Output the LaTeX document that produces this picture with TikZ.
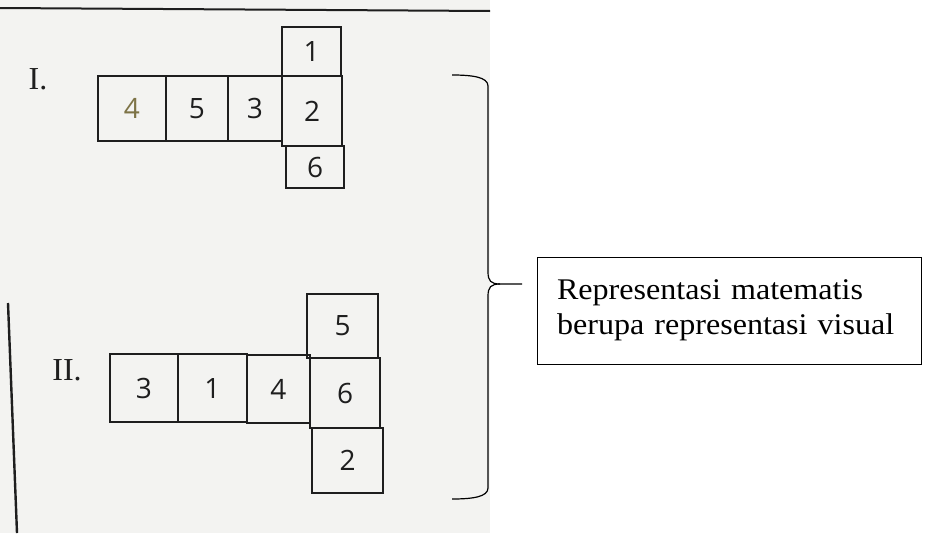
\documentclass[tikz,border=0pt]{standalone}
\usepackage{fontspec}
\setmainfont{Liberation Serif}
\newfontfamily\boxfont[FakeStretch=1.07]{Liberation Serif}
\newfontfamily\handfont{Open Sans}
\definecolor{paper}{RGB}{243,243,241}
\definecolor{ink}{RGB}{30,30,30}
\definecolor{olive}{RGB}{125,115,70}
\tikzset{
  cell/.style={draw=ink, line width=2.8pt, inner sep=0pt, outer sep=0pt,
    font=\handfont\fontsize{28}{28}\selectfont, text=ink},
  numlabel/.style={font=\fontsize{32}{32}\selectfont, text=ink, inner sep=0pt},
  bracket/.style={draw=black, line width=1.2pt},
  infobox/.style={draw=black, line width=0.9pt, minimum width=384pt, minimum height=107pt,
    inner xsep=20pt, align=left, text width=344pt, font=\boxfont\fontsize{30}{35}\selectfont},
  pageline/.style={draw=ink, line width=2.4pt}
}
\begin{document}
\begin{tikzpicture}[x=1pt,y=-1pt]
\useasboundingbox (0,0) rectangle (933,533);
% photo background
\fill[paper] (0,0) rectangle (490,533);
\draw[pageline, line width=2pt] (0,8) -- (490,11);
\draw[pageline] (8,303) -- (17,533);

% Net I
\node[numlabel] (lI) at (38,79) {I.};
\node[cell, minimum width=68pt, minimum height=65pt] (i4) at (132,108.5) {\textcolor{olive}{4}};
\node[cell, minimum width=62pt, minimum height=65pt] (i5) at (197,108.5) {5};
\node[cell, minimum width=54pt, minimum height=65pt] (i3) at (255,108.5) {3};
\node[cell, minimum width=60pt, minimum height=70pt] (i2) at (312,111) {2};
\node[cell, minimum width=59pt, minimum height=49pt] (i1) at (311.5,51.5) {1};
\node[cell, minimum width=58pt, minimum height=42pt] (i6) at (315,167) {6};

% Net II
\node[numlabel] (lII) at (67,370) {II.};
\node[cell, minimum width=68pt, minimum height=68pt] (ii3) at (144,388) {3};
\node[cell, minimum width=69pt, minimum height=68pt] (ii1) at (212.5,388) {1};
\node[cell, minimum width=63pt, minimum height=68pt] (ii4) at (278.5,389) {4};
\node[cell, minimum width=70pt, minimum height=70pt] (ii6) at (345,393) {6};
\node[cell, minimum width=71pt, minimum height=64pt] (ii5) at (342.5,326) {5};
\node[cell, minimum width=71pt, minimum height=65pt] (ii2) at (347.5,460.5) {2};

% brace
\coordinate (btop) at (452,75);
\coordinate (bbot) at (452,499);
\coordinate (btip) at (522,284);
\draw[bracket] (btop) .. controls (472,75) and (488,77) .. (488,86)
  -- (488,272) .. controls (488,281) and (491,284) .. (500,284) -- (btip);
\draw[bracket] (500,284) .. controls (491,284) and (488,287) .. (488,296)
  -- (488,488) .. controls (488,497) and (472,499) .. (bbot);

% text box
\node[infobox] (box) at (729,310.5) {Representasi matematis\\berupa representasi visual};
\end{tikzpicture}
\end{document}
